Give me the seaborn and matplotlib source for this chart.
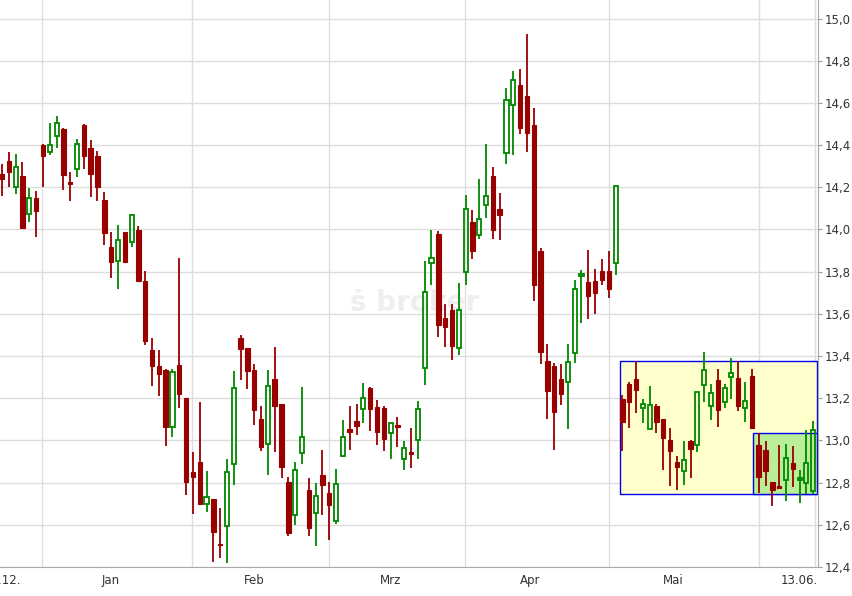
import matplotlib
matplotlib.use("Agg")
import matplotlib.pyplot as plt
import matplotlib.patches as mpatches
import seaborn as sns
import numpy as np

opens = [14.262,14.324,14.202,14.252,14.075,14.151,14.399,14.368,14.441,14.475,
         14.225,14.289,14.494,14.385,14.347,14.138,13.915,13.851,13.990,13.942,
         13.996,13.754,13.431,13.351,13.332,13.064,13.360,13.199,12.852,12.900,
         12.699,12.720,12.510,12.595,12.889,13.487,13.436,13.332,13.100,12.984,
         13.289,13.171,12.801,12.647,12.941,12.763,12.657,12.834,12.749,12.619,
         12.927,13.055,13.090,13.150,13.247,13.157,13.152,13.036,13.071,12.913,
         12.943,13.003,13.345,13.841,13.981,13.582,13.620,13.440,13.800,14.034,
         13.976,14.114,14.253,14.096,14.365,14.588,14.684,14.632,14.495,13.897,
         13.375,13.351,13.289,13.278,13.416,13.781,13.750,13.754,13.802,13.802,
         13.843,13.198,13.266,13.289,13.155,13.055,13.161,13.100,13.000,12.896,
         12.856,12.997,12.979,13.264,13.163,13.288,13.183,13.302,13.294,13.153,
         13.304,12.979,12.953,12.804,12.786,12.813,12.891,12.813,12.797,12.760]
closes = [14.238,14.273,14.298,14.007,14.151,14.088,14.349,14.399,14.507,14.259,
          14.217,14.407,14.349,14.263,14.202,13.983,13.846,13.952,13.846,14.070,
          13.754,13.471,13.352,13.314,13.063,13.325,13.219,12.801,12.825,12.697,
          12.732,12.565,12.503,12.851,13.250,13.433,13.329,13.144,12.968,13.259,
          13.163,12.873,12.560,12.861,13.017,12.584,12.737,12.788,12.693,12.794,
          13.017,13.039,13.068,13.202,13.149,13.039,13.006,13.084,13.065,12.965,
          12.937,13.150,13.705,13.867,13.547,13.538,13.448,13.620,14.095,13.898,
          14.052,14.161,13.998,14.071,14.612,14.711,14.482,14.458,13.737,13.419,
          13.234,13.134,13.220,13.373,13.720,13.791,13.685,13.699,13.761,13.720,
          14.208,13.087,13.182,13.239,13.174,13.169,13.087,13.011,12.951,12.873,
          12.905,12.960,13.231,13.335,13.226,13.144,13.250,13.321,13.163,13.188,
          13.059,12.829,12.854,12.764,12.775,12.918,12.864,12.820,12.894,13.050]
highs = [14.309,14.368,14.357,14.319,14.199,14.181,14.406,14.505,14.537,14.483,
         14.271,14.428,14.499,14.423,14.371,14.176,13.987,14.020,13.990,14.070,
         14.018,13.801,13.488,13.431,13.341,13.341,13.863,13.199,12.944,13.180,
         12.857,12.723,12.682,12.913,13.327,13.498,13.436,13.361,13.161,13.332,
         13.441,13.174,12.829,12.900,13.251,12.823,12.796,12.953,12.805,12.866,
         13.095,13.161,13.171,13.270,13.253,13.194,13.161,13.084,13.109,12.995,
         13.057,13.185,13.849,13.996,13.992,13.645,13.649,13.748,14.163,14.091,
         14.238,14.405,14.295,14.172,14.669,14.751,14.760,14.926,14.575,13.910,
         13.456,13.367,13.361,13.456,13.759,13.810,13.902,13.815,13.859,13.897,
         14.208,13.214,13.277,13.376,13.198,13.256,13.171,13.100,13.057,12.924,
         12.997,13.000,13.231,13.418,13.269,13.341,13.266,13.392,13.376,13.278,
         13.341,13.036,12.995,12.804,12.976,12.981,12.974,12.862,13.050,13.090]
lows = [14.157,14.202,14.167,14.007,14.034,13.964,14.202,14.355,14.387,14.188,
        14.135,14.249,14.286,14.154,14.135,13.925,13.770,13.718,13.846,13.917,
        13.749,13.452,13.257,13.210,12.972,13.015,13.153,12.740,12.651,12.697,
        12.659,12.423,12.442,12.418,12.790,13.286,13.244,13.073,12.949,12.837,
        12.945,12.821,12.546,12.598,12.888,12.546,12.499,12.646,12.527,12.603,
        12.921,12.957,13.028,13.085,13.047,12.976,12.948,12.910,12.968,12.858,
        12.867,12.910,13.263,13.739,13.490,13.443,13.380,13.405,13.737,13.859,
        13.954,14.053,13.954,13.949,14.310,14.354,14.453,14.368,13.661,13.362,
        13.101,12.953,13.166,13.054,13.367,13.557,13.576,13.601,13.736,13.675,
        13.786,12.949,13.059,13.131,13.082,13.055,13.035,12.859,12.783,12.764,
        12.788,12.823,12.945,13.182,13.097,13.066,13.153,13.198,13.139,13.087,
        13.059,12.752,12.786,12.688,12.775,12.712,12.779,12.703,12.747,12.747]

x_tick_pos = [0, 16, 37, 57, 77.5, 98.5, 117]
x_tick_labels = ["27.12.", "Jan", "Feb", "Mrz", "Apr", "Mai", "13.06."]
grid_x = [5.9, 27.9, 48.0, 67.9, 89.0, 111.0, 119.2]
y_ticks = [12.4, 12.6, 12.8, 13.0, 13.2, 13.4, 13.6, 13.8, 14.0, 14.2, 14.4, 14.6, 14.8, 15.0]
rect_big = (90.6, 119.6, 12.747, 13.376)
rect_small = (110.2, 119.6, 12.747, 13.036)

sns.set_style("white")
plt.rcParams['font.family'] = ['DejaVu Sans']

fig = plt.figure(figsize=(8.52, 5.96), dpi=100)
ax = fig.add_axes([0.0, 29/596, 818/852, 567/596])

o = np.array(opens); c = np.array(closes); h = np.array(highs); l = np.array(lows)
idx = np.arange(len(o))
up = c >= o
red = "#990000"; green = "#008800"

for yv in y_ticks:
    ax.axhline(yv, color="#dddddd", lw=1, zorder=0)
for xv in grid_x:
    ax.axvline(xv, color="#dddddd", lw=1, zorder=0)

ax.add_patch(mpatches.Rectangle((rect_big[0], rect_big[2]), rect_big[1]-rect_big[0],
             rect_big[3]-rect_big[2], facecolor="#ffffcc", edgecolor="#0000ee", lw=1, zorder=1))
ax.add_patch(mpatches.Rectangle((rect_small[0], rect_small[2]), rect_small[1]-rect_small[0],
             rect_small[3]-rect_small[2], facecolor="#bbee99", edgecolor="#0000ee", lw=1, zorder=1.5))

ax.text(60.5, 13.65, "ṡ broker", fontsize=20, fontweight="bold", color="#eeeeee",
        ha="center", va="center", zorder=0.5)

ax.vlines(idx[~up], l[~up], h[~up], color=red, lw=1.3, zorder=2)
ax.vlines(idx[up], l[up], np.minimum(o[up], c[up]), color=green, lw=1.3, zorder=2)
ax.vlines(idx[up], np.maximum(o[up], c[up]), h[up], color=green, lw=1.3, zorder=2)
ax.bar(idx[~up], np.maximum(o[~up]-c[~up], 0.006), bottom=c[~up], width=0.65,
       color=red, edgecolor=red, lw=0.8, zorder=3)
ax.bar(idx[up], np.maximum(c[up]-o[up], 0.006), bottom=o[up], width=0.6,
       facecolor="none", edgecolor=green, lw=1.3, zorder=3)

ax.set_xlim(-0.3, 119.7)
ax.set_ylim(12.4, 15.088)
ax.yaxis.tick_right()
ax.set_yticks(y_ticks)
ax.set_yticklabels([f"{v:.1f}".replace(".", ",") for v in y_ticks], fontsize=8.5, color="#333333")
ax.set_xticks(x_tick_pos)
ax.set_xticklabels(x_tick_labels, fontsize=8.5, color="#333333")
ax.tick_params(axis="both", length=3, color="#999999", pad=2)
for s in ["top", "left"]:
    ax.spines[s].set_visible(False)
for s in ["right", "bottom"]:
    ax.spines[s].set_color("#aaaaaa")

fig.savefig("out.png", dpi=100)
